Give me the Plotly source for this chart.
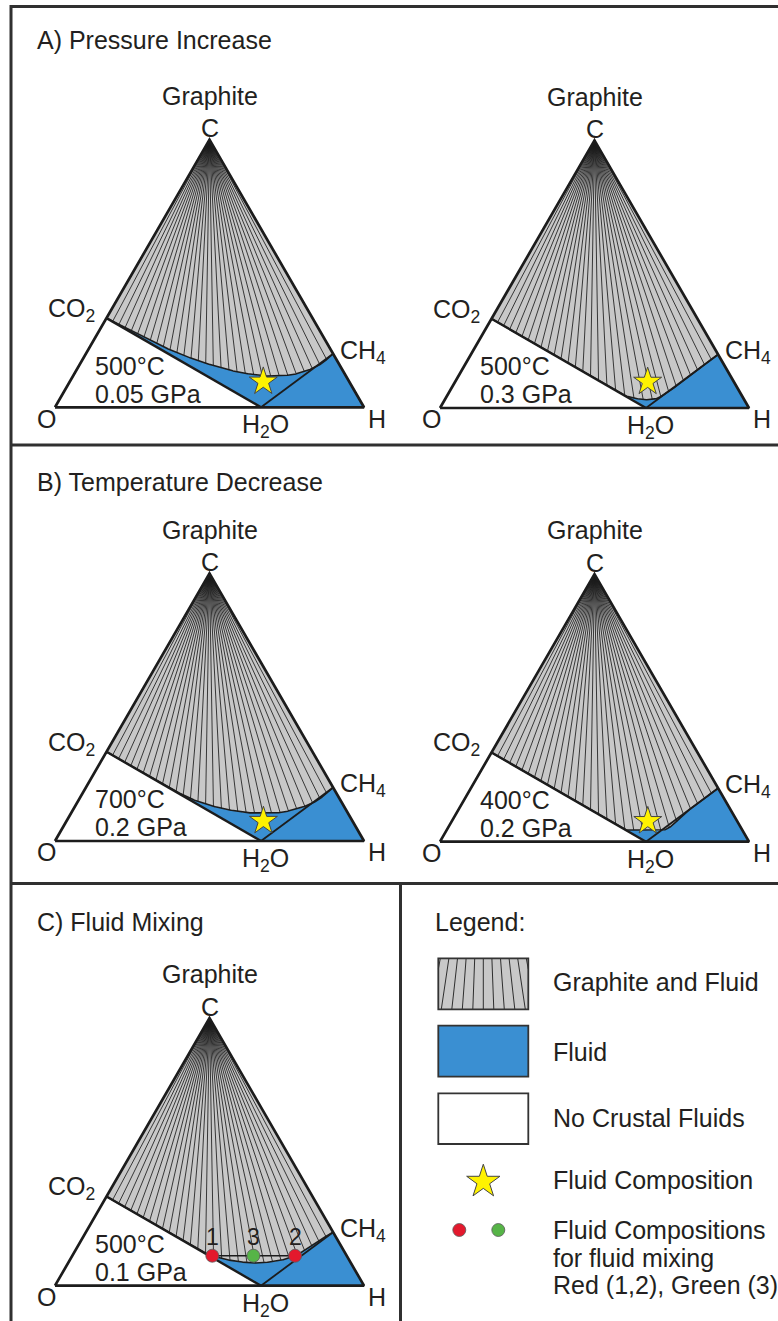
import numpy as np
import plotly.graph_objects as go

W, H = 778, 1321
S3 = np.sqrt(3) / 2

# ---------------- data: atomic fractions (X_C, X_H); X_O = 1 - X_C - X_H ----------------
vertex_C = (1.0, 0.0)
vertex_O = (0.0, 0.0)
vertex_H = (0.0, 1.0)
co2 = (1 / 3, 0.0)
ch4 = (0.2, 0.8)
h2o = (0.0, 2 / 3)

# graphite-saturation surface, read from CO2 to CH4
satA1_xc = [1 / 3, 0.260, 0.202, 0.158, 0.127, 0.117, 0.120, 0.139, 0.164, 0.2]
satA1_xh = [0.0, 0.161, 0.298, 0.428, 0.552, 0.632, 0.695, 0.750, 0.781, 0.8]

satA2_xc = [1 / 3, 0.190, 0.068, 0.047, 0.036, 0.031, 0.035, 0.050, 0.120, 0.2]
satA2_xh = [0.0, 0.287, 0.530, 0.573, 0.615, 0.650, 0.682, 0.700, 0.747, 0.8]

satB1_xc = [1 / 3, 0.2156, 0.152, 0.117, 0.105, 0.105, 0.122, 0.147, 0.178, 0.2]
satB1_xh = [0.0, 0.237, 0.377, 0.5025, 0.584, 0.660, 0.7265, 0.768, 0.790, 0.8]

satB2_xc = [1 / 3, 0.190, 0.061, 0.044, 0.044, 0.043, 0.042, 0.120, 0.2]
satB2_xh = [0.0, 0.287, 0.545, 0.583, 0.625, 0.663, 0.695, 0.747, 0.8]

satC_xc = [1 / 3, 0.190, 0.158, 0.112, 0.092, 0.085, 0.091, 0.112, 0.152, 0.2]
satC_xh = [0.0, 0.287, 0.353, 0.453, 0.536, 0.605, 0.666, 0.721, 0.755, 0.8]

# fluid composition (stars) for panels A1, A2, B1, B2
star_xc = [0.096, 0.098, 0.075, 0.077]
star_xh = [0.626, 0.623, 0.637, 0.634]

# fluid mixing points (panel C)
mix_xc = [0.112, 0.112, 0.112]
mix_xh = [0.453, 0.721, 0.586]
mix_labels = ["1", "2", "3"]
mix_colors = ["#e3192d", "#e3192d", "#56b447"]

temps = ["500°C", "500°C", "700°C", "400°C", "500°C"]
pressures = ["0.05 GPa", "0.3 GPa", "0.2 GPa", "0.2 GPa", "0.1 GPa"]
panel_titles = ["A) Pressure Increase", "B) Temperature Decrease", "C) Fluid Mixing"]
legend_labels = ["Graphite and Fluid", "Fluid", "No Crustal Fluids", "Fluid Composition",
                 "Fluid Compositions", "for fluid mixing", "Red (1,2), Green (3)"]

# ---------------- styles / layout constants ----------------
FONT = "Liberation Sans, Arial, Helvetica, sans-serif"
TXT = "#231f20"
BLUE = "#3a8fd2"
GRAY = "#c8c8c8"
INK = "#1c1c1c"
FRAME = "#303030"
FS = 25
SIDE = 309
PADX = 20
PADT = 60
PADB = 32
origins = [(55, 407.3), (440, 408.0), (55, 841.0), (440, 841.7), (55, 1285.7)]
NFAN = 30


def to_xy(xc, xh):
    xc = np.asarray(xc, float)
    xh = np.asarray(xh, float)
    return xh + xc / 2, xc * S3


def pchip(x, y, xn):
    x = np.asarray(x, float)
    y = np.asarray(y, float)
    h = np.diff(x)
    d = np.diff(y) / h
    m = np.zeros_like(y)
    for k in range(1, len(x) - 1):
        if d[k - 1] * d[k] <= 0:
            m[k] = 0.0
        else:
            w1 = 2 * h[k] + h[k - 1]
            w2 = h[k] + 2 * h[k - 1]
            m[k] = (w1 + w2) / (w1 / d[k - 1] + w2 / d[k])
    m[0] = d[0]
    m[-1] = d[-1]
    idx = np.clip(np.searchsorted(x, xn) - 1, 0, len(x) - 2)
    t = (xn - x[idx]) / h[idx]
    h00 = 2 * t**3 - 3 * t**2 + 1
    h10 = t**3 - 2 * t**2 + t
    h01 = -2 * t**3 + 3 * t**2
    h11 = t**3 - t**2
    return h00 * y[idx] + h10 * h[idx] * m[idx] + h01 * y[idx + 1] + h11 * h[idx] * m[idx + 1]


fig = go.Figure()
layout = {}
annotations = []
shapes = []

curves = [(satA1_xc, satA1_xh), (satA2_xc, satA2_xh), (satB1_xc, satB1_xh),
          (satB2_xc, satB2_xh), (satC_xc, satC_xh)]

Cx, Cy = to_xy(*vertex_C)
Ox, Oy = to_xy(*vertex_O)
Hx, Hy = to_xy(*vertex_H)
co2x, co2y = to_xy(*co2)
ch4x, ch4y = to_xy(*ch4)
h2ox, h2oy = to_xy(*h2o)


def sc(xr, yr, **kw):
    kw.setdefault("hoverinfo", "skip")
    kw.setdefault("showlegend", False)
    return go.Scatter(xaxis=xr, yaxis=yr, **kw)


def ann(text, x, y, xref, yref, xanchor="center", size=FS):
    annotations.append(dict(text=text, x=x, y=y, xref=xref, yref=yref, showarrow=False,
                            xanchor=xanchor, yanchor="middle",
                            font=dict(family=FONT, size=size, color=TXT)))


for k in range(5):
    ax = "" if k == 0 else str(k + 1)
    xr, yr = "x" + ax, "y" + ax
    ox, oy = origins[k]
    layout["xaxis" + ax] = dict(domain=[(ox - PADX) / W, (ox + SIDE + PADX) / W],
                                range=[-PADX / SIDE, 1 + PADX / SIDE], visible=False,
                                fixedrange=True, anchor=yr)
    layout["yaxis" + ax] = dict(domain=[1 - (oy + PADB) / H, 1 - (oy - SIDE * S3 - PADT) / H],
                                range=[-PADB / SIDE, S3 + PADT / SIDE], visible=False,
                                fixedrange=True, anchor=xr)

    cx, cy = to_xy(*curves[k])
    xn = np.linspace(cx[0], cx[-1], 500)
    yn = pchip(cx, cy, xn)

    # fluid field (blue)
    bx = [co2x, h2ox, Hx, ch4x] + list(xn[::-1])
    by = [co2y, h2oy, Hy, ch4y] + list(yn[::-1])
    fig.add_trace(sc(xr, yr, x=bx, y=by, mode="lines", fill="toself", fillcolor=BLUE,
                     line=dict(width=0, color=BLUE)))
    # graphite + fluid field (gray)
    gx = [Cx] + list(xn) + [Cx]
    gy = [Cy] + list(yn) + [Cy]
    fig.add_trace(sc(xr, yr, x=gx, y=gy, mode="lines", fill="toself", fillcolor=GRAY,
                     line=dict(width=0, color=GRAY)))
    # tie-line fan from graphite apex
    ang = np.maximum.accumulate(np.arctan2(xn - Cx, Cy - yn))
    targets = np.linspace(ang[0], ang[-1], NFAN + 2)[1:-1]
    ex = np.interp(targets, ang, xn)
    ey = np.interp(targets, ang, yn)
    fx, fy = [], []
    for a, b in zip(ex, ey):
        fx += [Cx, a, None]
        fy += [Cy, b, None]
    fig.add_trace(sc(xr, yr, x=fx, y=fy, mode="lines", line=dict(width=0.85, color=INK)))
    # saturation curve
    fig.add_trace(sc(xr, yr, x=xn, y=yn, mode="lines", line=dict(width=1.6, color=INK)))
    # H2O - CH4 join
    fig.add_trace(sc(xr, yr, x=[h2ox, ch4x], y=[h2oy, ch4y], mode="lines",
                     line=dict(width=1.8, color=INK)))
    # CO2 - H2O join
    fig.add_trace(sc(xr, yr, x=[co2x, h2ox], y=[co2y, h2oy], mode="lines",
                     line=dict(width=2.4, color=INK)))
    # triangle outline
    fig.add_trace(sc(xr, yr, x=[Ox, Hx, Cx, Ox], y=[Oy, Hy, Cy, Oy], mode="lines",
                     line=dict(width=2.7, color=INK)))

    if k < 4:
        sx, sy = to_xy(star_xc[k], star_xh[k])
        fig.add_trace(sc(xr, yr, x=[sx], y=[sy], mode="markers",
                         marker=dict(symbol="star", size=21, color="#fff200",
                                     line=dict(color="#444444", width=1))))
    else:
        mx, my = to_xy(mix_xc, mix_xh)
        fig.add_trace(sc(xr, yr, x=[mx[0], mx[1]], y=[my[0], my[1]], mode="lines",
                         line=dict(width=1.3, color=INK)))
        fig.add_trace(sc(xr, yr, x=mx, y=my, mode="markers",
                         marker=dict(size=13, color=mix_colors,
                                     line=dict(color="#5a5a5a", width=0.8))))
        for lx, ly, lt in zip(mx, my, mix_labels):
            ann(lt, lx, ly + 0.062, xr, yr, size=23)

    # vertex / phase labels
    ann("Graphite", 0.5, 1.008, xr, yr)
    ann("C", 0.5, 0.903, xr, yr)
    ann("CO<sub>2</sub>", 0.137, 0.315, xr, yr, xanchor="right")
    ann("CH<sub>4</sub>", 0.917, 0.18, xr, yr, xanchor="left")
    ann("O", -0.027, -0.037, xr, yr)
    ann("H", 1.041, -0.037, xr, yr)
    ann("H<sub>2</sub>O", 0.68, -0.062, xr, yr)
    ann(temps[k], 0.122, 0.135, xr, yr, xanchor="left")
    ann(pressures[k], 0.122, 0.044, xr, yr, xanchor="left")

# ---------------- overlay axis in page pixels for frame & legend ----------------
layout["xaxis6"] = dict(domain=[0, 1], range=[0, W], visible=False, fixedrange=True, anchor="y6")
layout["yaxis6"] = dict(domain=[0, 1], range=[H, 0], visible=False, fixedrange=True, anchor="x6")


def line_px(x0, y0, x1, y1, width=3, color=FRAME):
    shapes.append(dict(type="line", xref="x6", yref="y6", x0=x0, y0=y0, x1=x1, y1=y1,
                       line=dict(width=width, color=color)))


line_px(11, 6.5, W, 6.5)
line_px(11, 5, 11, H)
line_px(11, 445, W, 445)
line_px(11, 883.5, W, 883.5)
line_px(400.5, 883.5, 400.5, H)

for t, yy in zip(panel_titles, [40, 481.7, 921.7]):
    ann(t, 35, yy, "x6", "y6", xanchor="left")
ann("Legend:", 433.3, 921.7, "x6", "y6", xanchor="left")
for t, yy in zip(legend_labels, [981.7, 1051.7, 1118.3, 1180, 1230, 1258.3, 1285]):
    ann(t, 550.7, yy, "x6", "y6", xanchor="left")

# legend swatches
bx0, bx1 = 438.3, 528.3
boxes = [(958.3, 1009.3, GRAY), (1025.7, 1076.7, BLUE), (1093.3, 1144.0, "white")]
for y0, y1, col in boxes:
    shapes.append(dict(type="rect", xref="x6", yref="y6", x0=bx0, x1=bx1, y0=y0, y1=y1,
                       fillcolor=col, line=dict(width=0)))
# fan hatching in the first swatch
apx, apy = (bx0 + bx1) / 2, 958.3 - 230
top, bot = 958.3, 1009.3
for kk in range(-7, 8):
    xb = apx + kk * 10.5
    xt = apx + (xb - apx) * (top - apy) / (bot - apy)
    if xt <= bx0 or xt >= bx1:
        continue
    ex_, ey_ = xb, bot
    if xb < bx0 or xb > bx1:
        edge = bx0 if xb < bx0 else bx1
        ey_ = apy + (edge - apx) / (xb - apx) * (bot - apy)
        ex_ = edge
    line_px(xt, top, ex_, ey_, width=0.9, color=INK)
for y0, y1, col in boxes:
    shapes.append(dict(type="rect", xref="x6", yref="y6", x0=bx0, x1=bx1, y0=y0, y1=y1,
                       fillcolor="rgba(0,0,0,0)", line=dict(width=1.8, color="#333333")))

fig.add_trace(sc("x6", "y6", x=[483.3], y=[1181.7], mode="markers",
                 marker=dict(symbol="star", size=25, color="#fff200",
                             line=dict(color="#444444", width=1))))
fig.add_trace(sc("x6", "y6", x=[459.3, 498.3], y=[1230, 1230], mode="markers",
                 marker=dict(size=13, color=[mix_colors[0], mix_colors[2]],
                             line=dict(color="#5a5a5a", width=0.8))))

fig.update_layout(width=W, height=H, margin=dict(l=0, r=0, t=0, b=0),
                  paper_bgcolor="white", plot_bgcolor="rgba(0,0,0,0)",
                  showlegend=False, annotations=annotations, shapes=shapes, **layout)

fig.write_html("out.html")
